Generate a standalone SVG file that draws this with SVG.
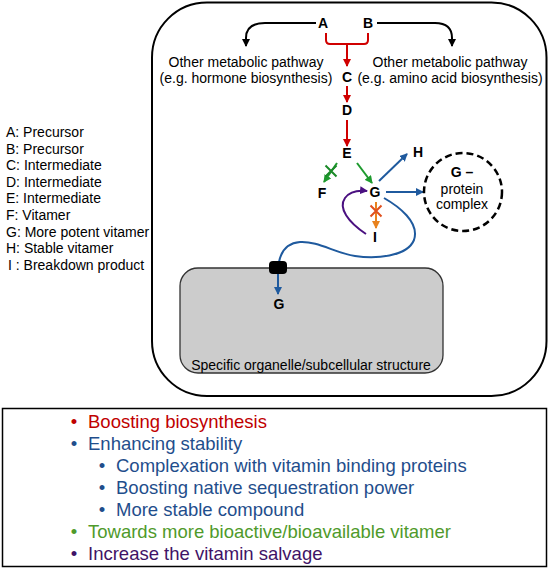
<svg xmlns="http://www.w3.org/2000/svg" width="550" height="569" viewBox="0 0 550 569">
<style>
text{font-family:"Liberation Sans",Arial,sans-serif;}
.lbl{font-size:14px;font-weight:bold;text-anchor:middle;fill:#000;}
.t14{font-size:14px;fill:#000;}
.mid{text-anchor:middle;}
.leg{font-size:14px;fill:#000;}
.b{font-size:18.5px;}
.ln{fill:none;stroke-width:2;}
</style>
<defs>
<marker id="mk" viewBox="0 0 8 8" refX="7" refY="4" markerWidth="8" markerHeight="8" markerUnits="userSpaceOnUse" orient="auto"><path d="M0,0 L8,4 L0,8 z" fill="#000"/></marker>
<marker id="mr" viewBox="0 0 8 8" refX="7" refY="4" markerWidth="8" markerHeight="8" markerUnits="userSpaceOnUse" orient="auto"><path d="M0,0 L8,4 L0,8 z" fill="#d00000"/></marker>
<marker id="mb" viewBox="0 0 8 8" refX="7" refY="4" markerWidth="8" markerHeight="8" markerUnits="userSpaceOnUse" orient="auto"><path d="M0,0 L8,4 L0,8 z" fill="#1f5a9e"/></marker>
<marker id="mg" viewBox="0 0 8 8" refX="7" refY="4" markerWidth="8" markerHeight="8" markerUnits="userSpaceOnUse" orient="auto"><path d="M0,0 L8,4 L0,8 z" fill="#1e9a2e"/></marker>
<marker id="mo" viewBox="0 0 8 8" refX="7" refY="4" markerWidth="8" markerHeight="8" markerUnits="userSpaceOnUse" orient="auto"><path d="M0,0 L8,4 L0,8 z" fill="#e8821e"/></marker>
<marker id="mp" viewBox="0 0 8 8" refX="7" refY="4" markerWidth="8" markerHeight="8" markerUnits="userSpaceOnUse" orient="auto"><path d="M0,0 L8,4 L0,8 z" fill="#4a1080"/></marker>
</defs>
<rect width="550" height="569" fill="#fff"/>

<g id="cell"><rect x="152" y="2.5" width="394.5" height="393.5" rx="55" fill="#fff" stroke="#000" stroke-width="2"/></g>
<g id="organelle"><rect x="180" y="268" width="263" height="105" rx="18" fill="#cccccc" stroke="#333" stroke-width="1.3"/>
<text class="t14 mid" x="311" y="370">Specific organelle/subcellular structure</text></g>

<g id="connectors">
<path class="ln" stroke="#000" d="M316,23 L265,23 Q246,23 246,38 L246,46" marker-end="url(#mk)"/>
<path class="ln" stroke="#000" d="M377,23 L435,23 Q452,23 452,38 L452,46" marker-end="url(#mk)"/>
<path class="ln" stroke="#d00000" d="M326,33 L326,40 Q326,44 330,44 L364,44 Q368,44 368,40 L368,33"/>
<path class="ln" stroke="#d00000" d="M347,44 L347,66" marker-end="url(#mr)"/>
<path class="ln" stroke="#d00000" d="M347,86 L347,102" marker-end="url(#mr)"/>
<path class="ln" stroke="#d00000" d="M347,120 L347,146" marker-end="url(#mr)"/>
<path class="ln" stroke="#1e9a2e" d="M357,163 L372,183" marker-end="url(#mg)"/>
<path class="ln" stroke="#1e9a2e" d="M337,163 L324,182" marker-end="url(#mg)"/>
<path class="ln" stroke="#1a8a28" stroke-width="4" d="M325.5,165.5 L336.5,176.5 M336.5,165.5 L325.5,176.5"/>
<path class="ln" stroke="#1f5a9e" d="M379,181 L407,154" marker-end="url(#mb)"/>
<path class="ln" stroke="#1f5a9e" d="M386,192 L423,192" marker-end="url(#mb)"/>
<path class="ln" stroke="#1f5a9e" d="M384,198 C398,206 420,222 414,240 C407,257 375,259 355,256 C335,253 318,241 300,242 C287,243 281,252 279,262"/>
<path class="ln" stroke="#1f5a9e" d="M278,274 L278,294" marker-end="url(#mb)"/>
<path class="ln" stroke="#e8821e" d="M376,202 L376,228" marker-end="url(#mo)"/>
<path class="ln" stroke="#e0501e" stroke-width="4" d="M370.5,205.5 L381.5,216.5 M381.5,205.5 L370.5,216.5"/>
<path class="ln" stroke="#4a1080" d="M366,234 C348,222 338,208 345,198 C350,191 358,190 367,191" marker-end="url(#mp)"/>
<rect x="269" y="261" width="18" height="13" rx="4" fill="#000"/>
</g>

<g id="nodeA"><text class="lbl" x="323" y="28">A</text></g>
<g id="nodeB"><text class="lbl" x="368" y="28">B</text></g>
<g id="pathLeft"><text class="t14 mid" x="246" y="67">Other metabolic pathway</text><text class="t14 mid" x="246" y="83">(e.g. hormone biosynthesis)</text></g>
<g id="pathRight"><text class="t14 mid" x="450" y="67">Other metabolic pathway</text><text class="t14 mid" x="450" y="83">(e.g. amino acid biosynthesis)</text></g>
<g id="nodeC"><text class="lbl" x="347" y="82">C</text></g>
<g id="nodeD"><text class="lbl" x="347" y="115">D</text></g>
<g id="nodeE"><text class="lbl" x="347" y="158">E</text></g>
<g id="nodeF"><text class="lbl" x="322" y="198">F</text></g>
<g id="nodeG"><text class="lbl" x="375" y="197">G</text></g>
<g id="nodeH"><text class="lbl" x="418" y="157">H</text></g>
<g id="nodeI"><text class="lbl" x="375" y="242">I</text></g>
<g id="nodeG2"><text class="lbl" x="279" y="309">G</text></g>
<g id="complex"><circle cx="463" cy="192" r="39" fill="#fff" stroke="#000" stroke-width="2.5" stroke-dasharray="7,4"/>
<text class="lbl" x="462" y="177">G –</text>
<text class="t14 mid" x="462" y="194">protein</text>
<text class="t14 mid" x="462" y="209">complex</text></g>

<g id="legend">
<text class="leg" x="6" y="137">A: Precursor</text>
<text class="leg" x="6" y="153.6">B: Precursor</text>
<text class="leg" x="6" y="170.2">C: Intermediate</text>
<text class="leg" x="6" y="186.8">D: Intermediate</text>
<text class="leg" x="6" y="203.4">E: Intermediate</text>
<text class="leg" x="6" y="220">F: Vitamer</text>
<text class="leg" x="6" y="236.6">G: More potent vitamer</text>
<text class="leg" x="6" y="253.2">H: Stable vitamer</text>
<text class="leg" x="8" y="269.8">I : Breakdown product</text>
</g>

<g id="strategies">
<rect x="2.5" y="408.5" width="544" height="158" fill="#fff" stroke="#000" stroke-width="1.5"/>
<g class="b">
<text x="74" y="428" fill="#c00000" class="mid">•</text><text x="88" y="428" fill="#c00000">Boosting biosynthesis</text>
<text x="74" y="450" fill="#1f4e8c" class="mid">•</text><text x="88" y="450" fill="#1f4e8c">Enhancing stability</text>
<text x="102" y="472" fill="#1f4e8c" class="mid">•</text><text x="116" y="472" fill="#1f4e8c">Complexation with vitamin binding proteins</text>
<text x="102" y="494" fill="#1f4e8c" class="mid">•</text><text x="116" y="494" fill="#1f4e8c">Boosting native sequestration power</text>
<text x="102" y="516" fill="#1f4e8c" class="mid">•</text><text x="116" y="516" fill="#1f4e8c">More stable compound</text>
<text x="74" y="538" fill="#4f9a2b" class="mid">•</text><text x="88" y="538" fill="#4f9a2b">Towards more bioactive/bioavailable vitamer</text>
<text x="74" y="560" fill="#3f1367" class="mid">•</text><text x="88" y="560" fill="#3f1367">Increase the vitamin salvage</text>
</g>
</g>
</svg>
